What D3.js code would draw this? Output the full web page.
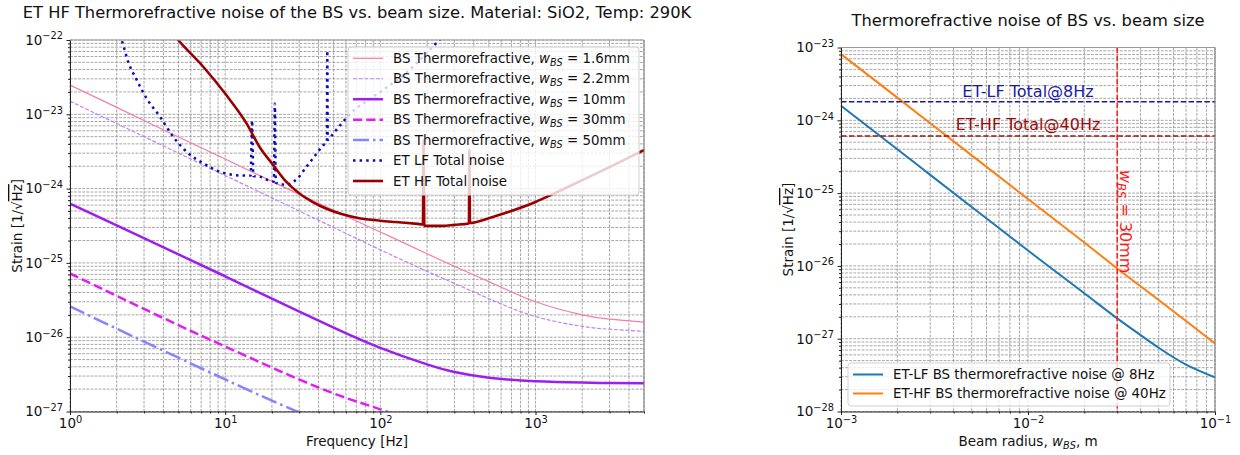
<!DOCTYPE html>
<html>
<head>
<meta charset="utf-8">
<script src="https://cdn.jsdelivr.net/npm/d3@7"></script>
<style>
  body { margin: 0; background: #fff; }
  text { font-family: "DejaVu Sans", sans-serif; }
</style>
</head>
<body>
<svg id="chart" width="1240" height="455"></svg>
<script>
// ---- left panel: BS thermorefractive noise vs frequency ----
var beamSizes = ["1.6", "2.2", "10", "30", "50"]
var freqBS = [1, 2, 5, 10, 20, 50, 100, 200, 300, 500, 1000, 2000, 3000, 5000]
var tr16 = [2.47e-23, 1.24e-23, 4.95e-24, 2.5e-24, 1.25e-24, 5.1e-25, 2.6e-25, 1.33e-25, 9.0e-26, 5.6e-26, 3.0e-26, 2.0e-26, 1.75e-26, 1.6e-26]
var tr22 = [1.5e-23, 7.5e-24, 3.0e-24, 1.5e-24, 7.5e-25, 3.0e-25, 1.5e-25, 7.7e-26, 5.3e-26, 3.3e-26, 1.9e-26, 1.4e-26, 1.28e-26, 1.2e-26]
var tr10 = [6.3e-25, 3.2e-25, 1.3e-25, 6.6e-26, 3.3e-26, 1.35e-26, 7.2e-27, 4.3e-27, 3.4e-27, 2.85e-27, 2.55e-27, 2.45e-27, 2.42e-27, 2.4e-27]
var tr30 = [7.2e-26, 3.6e-26, 1.45e-26, 7.5e-27, 3.9e-27, 1.75e-27, 1.07e-27, 6.2e-28, null, null, null, null, null, null]
var tr50 = [2.6e-26, 1.3e-26, 5.3e-27, 2.7e-27, 1.4e-27, 6.2e-28, null, null, null, null, null, null, null, null]

var freqLF = [2.0, 2.15, 2.37, 2.69, 3.12, 3.8, 4.62, 5.77, 7.2, 9.7, 13, 14.6, 14.9, 15.2, 16.7, 18.9, 20.6, 20.9, 21.2, 23, 24.8, 27.4, 29.4, 33.3, 37.6, 42.6, 45.2, 45.5, 45.8, 49.3, 55.6, 63, 100, 146.6, 240, 300]
var noiseLF = [1.4e-22, 1.0e-22, 5.1e-23, 2.9e-23, 1.63e-23, 9.3e-24, 5.0e-24, 3.0e-24, 2.2e-24, 1.63e-24, 1.5e-24, 1.5e-24, 8.3e-24, 1.48e-24, 1.45e-24, 1.3e-24, 1.25e-24, 1.4e-23, 1.2e-24, 1.15e-24, 1.12e-24, 1.23e-24, 1.38e-24, 1.96e-24, 2.7e-24, 3.8e-24, 4.3e-24, 7.2e-23, 4.5e-24, 5.4e-24, 7.3e-24, 9.8e-24, 2.0e-23, 3.6e-23, 1.0e-22, 1.6e-22]

var freqHF = [4.5, 4.98, 7.2, 10.2, 13.7, 16.7, 20.3, 24.8, 30.1, 36.7, 44.6, 57, 73, 100, 125, 174, 188, 190, 192, 250, 300, 372, 375, 378, 500, 660, 1000, 1350, 2000, 3000, 5000]
var noiseHF = [1.3e-22, 1.0e-22, 4.4e-23, 1.8e-23, 7.6e-24, 3.6e-24, 2.1e-24, 1.23e-24, 8.6e-25, 6.6e-25, 5.4e-25, 4.5e-25, 4.0e-25, 3.7e-25, 3.55e-25, 3.35e-25, 3.3e-25, 4.5e-24, 3.15e-25, 3.15e-25, 3.25e-25, 3.4e-25, 3.3e-24, 3.45e-25, 4.0e-25, 4.8e-25, 6.6e-25, 8.8e-25, 1.3e-24, 1.95e-24, 3.3e-24]

// ---- right panel: noise vs beam radius ----
var beamRadius = [1e-3, 2e-3, 3e-3, 5e-3, 1e-2, 2e-2, 3e-2, 4e-2, 5e-2, 7e-2, 1e-1]
var trLF8 = [1.58e-24, 4.0e-25, 1.78e-25, 6.45e-26, 1.63e-26, 4.2e-27, 1.9e-27, 1.12e-27, 7.5e-28, 4.4e-28, 2.95e-28]
var trHF40 = [8.1e-24, 2.05e-24, 9.1e-25, 3.3e-25, 8.3e-26, 2.1e-26, 9.2e-27, 5.25e-27, 3.4e-27, 1.75e-27, 8.6e-28]
var totalLF8 = 1.8e-24
var totalHF40 = 6.1e-25
var chosenRadius = 0.03

var svg = d3.select('#chart')
var defs = svg.append('defs')

function decadeTicks(domain) {
    var major = [], minor = []
    var lo = Math.floor(Math.log10(domain[0])), hi = Math.ceil(Math.log10(domain[1]))
    for (var e = lo; e <= hi; e++) {
        for (var m = 1; m <= 9; m++) {
            var v = +(m * Math.pow(10, e)).toPrecision(6)
            if (v < domain[0] * 0.99999 || v > domain[1] * 1.00001) continue
            if (m === 1) major.push(v); else minor.push(v)
        }
    }
    return { major: major, minor: minor }
}

function powLabel(sel) {
    sel.each(function(d) {
        var t = d3.select(this)
        var e = Math.round(Math.log10(d))
        t.text(null)
        t.append('tspan').text('10')
        t.append('tspan').attr('dy', '-0.55em').attr('font-size', '9.8px')
            .text(e < 0 ? '\u2212' + (-e) : String(e))
    })
}

// rich text: parts = [{t, it, sub}]
function richText(t, parts) {
    var shifted = false
    parts.forEach(function(p) {
        var s = t.append('tspan').text(p.t)
        if (p.it) s.attr('font-style', 'italic')
        if (p.sub) { s.attr('font-size', '0.72em').attr('dy', 3); shifted = true }
        else if (shifted) { s.attr('dy', -3); shifted = false }
    })
}

function panel(c) {
    var x = d3.scaleLog().domain(c.xd).range([c.l, c.r])
    var y = d3.scaleLog().domain(c.yd).range([c.b, c.t])
    var xt = decadeTicks(c.xd), yt = decadeTicks(c.yd)
    var g = svg.append('g')

    var grid = g.append('g').attr('stroke', '#8f8f8f').attr('stroke-width', 0.8).attr('stroke-dasharray', '2.8,1.3')
    grid.selectAll('.gx').data(xt.major.concat(xt.minor)).join('line').attr('class', 'gx')
        .attr('x1', d => x(d)).attr('x2', d => x(d)).attr('y1', c.t).attr('y2', c.b)
    grid.selectAll('.gy').data(yt.major.concat(yt.minor)).join('line').attr('class', 'gy')
        .attr('y1', d => y(d)).attr('y2', d => y(d)).attr('x1', c.l).attr('x2', c.r)

    defs.append('clipPath').attr('id', c.id).append('rect')
        .attr('x', c.l).attr('y', c.t).attr('width', c.r - c.l).attr('height', c.b - c.t)
    var plot = g.append('g').attr('clip-path', 'url(#' + c.id + ')')

    var top = g.append('g')
    top.append('line').attr('x1', c.l).attr('x2', c.r).attr('y1', c.t).attr('y2', c.t).attr('stroke', '#999')
    top.append('line').attr('x1', c.r).attr('x2', c.r).attr('y1', c.t).attr('y2', c.b).attr('stroke', '#777')

    var axX = top.append('g').attr('transform', 'translate(0,' + c.b + ')')
        .call(d3.axisBottom(x).tickValues(xt.major).tickSize(3.5).tickSizeOuter(0).tickPadding(3.5))
    top.append('g').attr('transform', 'translate(0,' + c.b + ')')
        .call(d3.axisBottom(x).tickValues(xt.minor).tickSize(2).tickSizeOuter(0).tickFormat(''))
        .select('.domain').remove()
    var axY = top.append('g').attr('transform', 'translate(' + c.l + ',0)')
        .call(d3.axisLeft(y).tickValues(yt.major).tickSize(3.5).tickSizeOuter(0).tickPadding(3.5))
    top.append('g').attr('transform', 'translate(' + c.l + ',0)')
        .call(d3.axisLeft(y).tickValues(yt.minor).tickSize(2).tickSizeOuter(0).tickFormat(''))
        .select('.domain').remove()
    top.selectAll('.tick line').attr('stroke', '#222')
    top.selectAll('.domain').attr('stroke', '#222')
    ;[axX, axY].forEach(function(a) {
        a.attr('font-family', null).attr('font-size', null)
        a.selectAll('text').attr('font-size', '13.5px').attr('fill', '#111').call(powLabel)
    })

    svg.append('text').attr('x', (c.l + c.r) / 2).attr('y', c.titleY).attr('text-anchor', 'middle')
        .attr('font-size', '16.3px').attr('fill', '#111').text(c.title)
    var xl = svg.append('text').attr('x', (c.l + c.r) / 2).attr('y', 446).attr('text-anchor', 'middle')
        .attr('font-size', '13.5px').attr('fill', '#111')
    richText(xl, c.xlabel)
    var yl = svg.append('text').attr('transform', 'translate(' + c.ylabX + ',' + (c.t + c.b) / 2 + ') rotate(-90)')
        .attr('text-anchor', 'middle').attr('font-size', '13.5px').attr('fill', '#111')
    yl.append('tspan').text('Strain [1/\u221A')
    yl.append('tspan').attr('text-decoration', 'overline').text('Hz')
    yl.append('tspan').text(']')

    return { x: x, y: y, plot: plot, top: top }
}

function drawLine(p, xs, ys, st, curve) {
    var pts = xs.map((v, i) => [v, ys[i]]).filter(d => d[1] != null)
    p.plot.append('path').datum(pts)
        .attr('d', d3.line().x(d => p.x(d[0])).y(d => p.y(d[1])).curve(curve || d3.curveNatural))
        .attr('fill', 'none').attr('stroke', st.color).attr('stroke-width', st.w)
        .attr('stroke-dasharray', st.dash || null)
}

function legend(g, items, b) {
    g.append('rect').attr('x', b.x).attr('y', b.y).attr('width', b.w).attr('height', b.h).attr('rx', 3)
        .attr('fill', '#fff').attr('fill-opacity', 0.8).attr('stroke', '#d0d0d0')
    items.forEach(function(it, i) {
        var yy = b.y0 + i * b.dy
        g.append('line').attr('x1', b.lx).attr('x2', b.lx + 30).attr('y1', yy).attr('y2', yy)
            .attr('stroke', it.color).attr('stroke-width', it.w).attr('stroke-dasharray', it.dash || null)
        var t = g.append('text').attr('x', b.tx).attr('y', yy + 4.7).attr('font-size', '13.4px').attr('fill', '#111')
        richText(t, it.parts)
    })
}

// ---------- left panel ----------
var left = panel({
    id: 'clipL', xd: [1, 5000], yd: [1e-27, 1e-22], l: 70, r: 644, t: 40, b: 411.5,
    title: 'ET HF Thermorefractive noise of the BS vs. beam size. Material: SiO2, Temp: 290K', titleY: 18,
    xlabel: [{ t: 'Frequency [Hz]' }], ylabX: 22
})

var stylesL = [
    { color: '#f77aad', w: 1.2 },
    { color: '#bf84f2', w: 1.2, dash: '4,1.7' },
    { color: '#9b1ff0', w: 2.5 },
    { color: '#e01ef2', w: 2.5, dash: '9.25,4' },
    { color: '#8585ff', w: 2.5, dash: '16,4,2.5,4' },
    { color: '#0b0bb8', w: 2.5, dash: '2.5,4.1' },
    { color: '#9b0000', w: 2.6 }
]
var trAll = [tr16, tr22, tr10, tr30, tr50]
trAll.forEach((vals, i) => drawLine(left, freqBS, vals, stylesL[i]))
drawLine(left, freqLF, noiseLF, stylesL[5], d3.curveMonotoneX)
drawLine(left, freqHF, noiseHF, stylesL[6], d3.curveMonotoneX)

var legItemsL = beamSizes.map((s, i) => Object.assign({
    parts: [{ t: 'BS Thermorefractive, ' }, { t: 'w', it: true }, { t: 'BS', it: true, sub: true }, { t: ' = ' + s + 'mm' }]
}, stylesL[i]))
legItemsL.push(Object.assign({ parts: [{ t: 'ET LF Total noise' }] }, stylesL[5]))
legItemsL.push(Object.assign({ parts: [{ t: 'ET HF Total noise' }] }, stylesL[6]))
legend(left.top, legItemsL, { x: 348, y: 47, w: 291, h: 148, y0: 58.3, dy: 20.45, lx: 353, tx: 393 })

// ---------- right panel ----------
var right = panel({
    id: 'clipR', xd: [1e-3, 1e-1], yd: [1e-28, 1e-23], l: 841, r: 1215, t: 47.5, b: 411.5,
    title: 'Thermorefractive noise of BS vs. beam size', titleY: 26,
    xlabel: [{ t: 'Beam radius, ' }, { t: 'w', it: true }, { t: 'BS', it: true, sub: true }, { t: ', m' }], ylabX: 793
})

drawLine(right, beamRadius, trLF8, { color: '#1f77b4', w: 2 })
drawLine(right, beamRadius, trHF40, { color: '#ff7f0e', w: 2 })

var rx = right.x, ry = right.y
right.plot.append('line').attr('x1', 841).attr('x2', 1215).attr('y1', ry(totalLF8)).attr('y2', ry(totalLF8))
    .attr('stroke', '#1a1aa0').attr('stroke-width', 1.5).attr('stroke-dasharray', '5.5,2.4')
right.plot.append('line').attr('x1', 841).attr('x2', 1215).attr('y1', ry(totalHF40)).attr('y2', ry(totalHF40))
    .attr('stroke', '#a01515').attr('stroke-width', 1.5).attr('stroke-dasharray', '5.5,2.4')
right.plot.append('line').attr('x1', rx(chosenRadius)).attr('x2', rx(chosenRadius)).attr('y1', 47.5).attr('y2', 411.5)
    .attr('stroke', '#ff1a1a').attr('stroke-width', 1.5).attr('stroke-dasharray', '5.5,2.4')

right.top.append('text').attr('x', 1028).attr('y', ry(totalLF8) - 4.5).attr('text-anchor', 'middle')
    .attr('font-size', '16px').attr('fill', '#1a1aaa').text('ET-LF Total@8Hz')
right.top.append('text').attr('x', 1028).attr('y', ry(totalHF40) - 5.5).attr('text-anchor', 'middle')
    .attr('font-size', '16px').attr('fill', '#9a0a0a').text('ET-HF Total@40Hz')
var vt = right.top.append('text')
    .attr('transform', 'translate(' + (rx(chosenRadius) + 3) + ',170) rotate(90)')
    .attr('font-size', '16px').attr('fill', '#ff1a1a')
richText(vt, [{ t: 'w', it: true }, { t: 'BS', it: true, sub: true }, { t: ' = 30mm' }])

legend(right.top, [
    { parts: [{ t: 'ET-LF BS thermorefractive noise @ 8Hz' }], color: '#1f77b4', w: 2 },
    { parts: [{ t: 'ET-HF BS thermorefractive noise @ 40Hz' }], color: '#ff7f0e', w: 2 }
], { x: 848, y: 363, w: 322, h: 43, y0: 374.5, dy: 19, lx: 853, tx: 893 })
</script>
</body>
</html>
